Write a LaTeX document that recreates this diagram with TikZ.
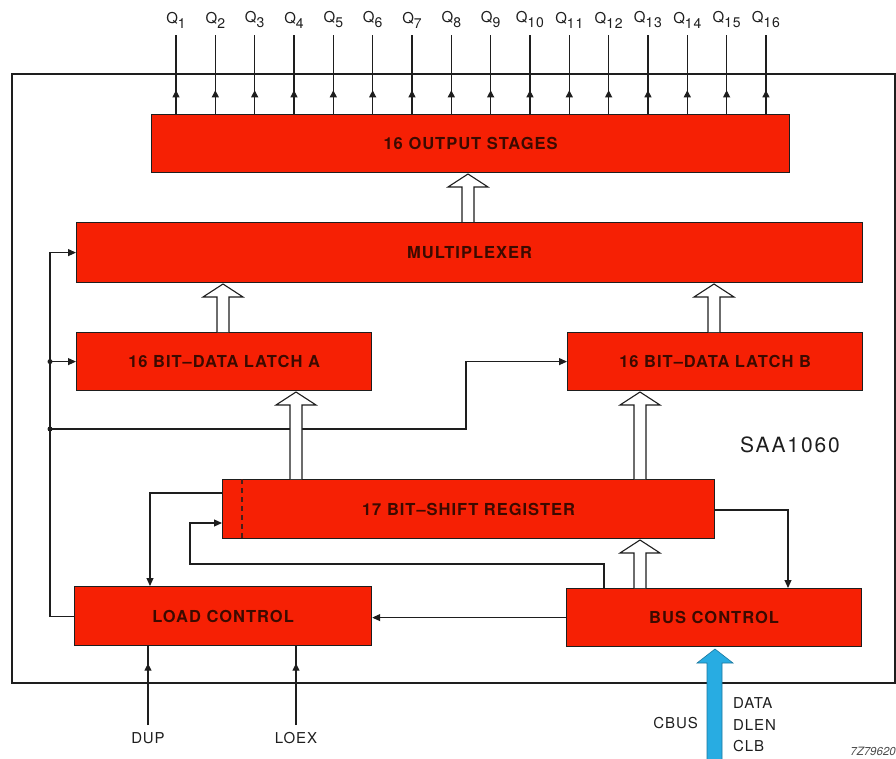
\documentclass[tikz,border=0pt]{standalone}
\usepackage{fontspec}
\setmainfont{TeX Gyre Heros}
\newfontfamily\spc[LetterSpace=6]{TeX Gyre Heros}
\newfontfamily\spcw[LetterSpace=9]{TeX Gyre Heros}
\usetikzlibrary{arrows.meta,decorations.markings,calc}
\definecolor{chipred}{RGB}{246,32,4}
\definecolor{boxtext}{RGB}{60,10,0}
\definecolor{busblue}{RGB}{40,172,226}
\definecolor{ink}{RGB}{30,30,30}
\newcommand\hollowarrow[3]{%
  \draw[hol] (#1-6,#2) -- (#1-6,#3+13) -- (#1-20,#3+13) -- (#1,#3) -- (#1+20,#3+13) -- (#1+6,#3+13) -- (#1+6,#2);}
\begin{document}
\begin{tikzpicture}[x=1pt,y=-1pt,
  blk/.style={draw=ink,line width=1.2pt,fill=chipred,anchor=north west,inner sep=0pt,
    font=\spc\fontsize{16.5}{17}\selectfont\bfseries,text=boxtext},
  wire/.style={draw=ink,line width=1.1pt},
  arr/.style={wire,-{Triangle[length=8pt,width=7pt]}},
  midarr/.style={wire,postaction={decorate},
    decoration={markings,mark=at position #1 with {\arrow{Triangle[length=7pt,width=7pt]}}}},
  hol/.style={draw=ink,line width=1.1pt,fill=white},
  lbl/.style={text=ink,font=\spc\fontsize{15}{15}\selectfont,inner sep=0pt},
  qlbl/.style={text=ink,font=\spc\fontsize{15}{15}\selectfont,inner sep=0pt},
  jdot/.style={circle,fill=ink,inner sep=0pt,minimum size=5pt}
]
\useasboundingbox (0,0) rectangle (896,759);
% chip frame
\draw[wire] (12,74) rectangle (895,683);
% blocks
\node[blk,minimum width=638pt,minimum height=58pt] (out) at (151,114) {16 OUTPUT STAGES};
\node[blk,minimum width=786pt,minimum height=60pt] (mux) at (76,222) {MULTIPLEXER};
\node[blk,minimum width=295pt,minimum height=58pt] (la) at (76,332) {16 BIT–DATA LATCH A};
\node[blk,minimum width=295pt,minimum height=58pt] (lb) at (567,332) {16 BIT–DATA LATCH B};
\node[blk,minimum width=492pt,minimum height=59pt] (sr) at (222,479) {17 BIT–SHIFT REGISTER};
\node[blk,minimum width=297pt,minimum height=59pt] (lc) at (74,586) {LOAD CONTROL};
\node[blk,minimum width=295pt,minimum height=58pt] (bc) at (566,588) {BUS CONTROL};
\draw[ink!80!chipred,line width=1.1pt,dash pattern=on 5pt off 4pt] ([xshift=20pt]sr.north west) -- ([xshift=20pt]sr.south west);
% outputs Q1..Q16
\foreach \i in {1,...,16}{
  \pgfmathsetmacro\qx{176+39.33*(\i-1)}
  \coordinate (qp\i) at (\qx,35);
  \node[qlbl] (q\i) at (\qx,20) {Q\raisebox{-5pt}{\fontsize{14}{14}\selectfont\i}};
  \draw[midarr=0.3] (out.north -| qp\i) -- (qp\i);
}
% control wiring
\coordinate (ja) at ([xshift=-26pt]la.west);
\coordinate (jb) at (50,429);
\draw[arr] (lc.west) -| ([xshift=-26pt]mux.west) -- (mux.west);
\draw[arr] (ja) -- (la.west);
\draw[arr] (jb) -| (lb.west -| 466,0) -- (lb.west);
\node[jdot] (dja) at (ja) {};
\node[jdot] (djb) at (jb) {};
\draw[arr] (sr.west |- 0,493) -| (lc.north -| 150,0);
\draw[arr] (bc.north -| 604,0) |- (190,564) |- (sr.west |- 0,523);
\draw[arr] (bc.west) -- (bc.west -| lc.east);
\draw[arr] (sr.east |- 0,510) -| (bc.north -| 788,0);
% data paths (hollow arrows)
\hollowarrow{468}{222}{174}
\hollowarrow{223}{332}{284}
\hollowarrow{714}{332}{284}
\hollowarrow{296}{479}{392}
\hollowarrow{640}{479}{392}
\hollowarrow{640}{588}{540}
% external inputs
\node[lbl] (dup) at (148,738) {DUP};
\node[lbl] (loex) at (296,738) {LOEX};
\draw[midarr=0.78] ([yshift=7pt]dup.north) -- (lc.south -| dup.north);
\draw[midarr=0.78] ([yshift=7pt]loex.north) -- (lc.south -| loex.north);
% serial bus
\draw[draw=busblue!70!black,line width=0.6pt,fill=busblue] (707,759) -- (707,663) -- (697,663) -- (715,649) -- (733,663) -- (722,663) -- (722,759);
\node[lbl,anchor=east] (cbus) at (698,723) {CBUS};
\node[lbl,anchor=west] (data) at (733,703) {DATA};
\node[lbl,anchor=west] (dlen) at (733,725) {DLEN};
\node[lbl,anchor=west] (clb) at (733,746) {CLB};
\node[text=ink,font=\spcw\fontsize{21}{21}\selectfont,inner sep=0pt] (chip) at (790,445) {SAA1060};
\node[text=ink!80,font=\itshape\fontsize{11.5}{12}\selectfont,anchor=east,inner sep=0pt] (mark) at (896,751) {7Z79620};
\end{tikzpicture}
\end{document}
